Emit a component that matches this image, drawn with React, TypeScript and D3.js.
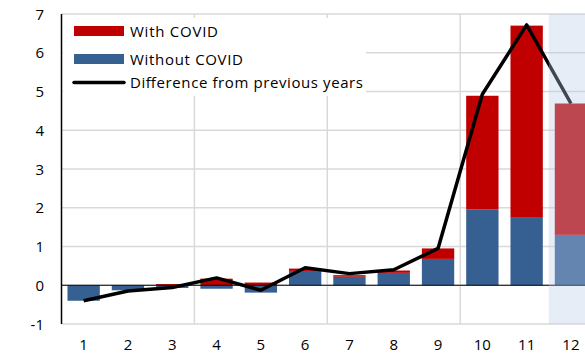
import React from "react";
import * as d3 from "d3";

const categories = ["1", "2", "3", "4", "5", "6", "7", "8", "9", "10", "11", "12"];
const withoutCovid = [-0.40, -0.13, -0.07, -0.09, -0.19, 0.37, 0.22, 0.32, 0.68, 1.96, 1.76, 1.30];
const withCovid = [0, 0, 0.03, 0.17, 0.07, 0.06, 0.04, 0.06, 0.27, 2.93, 4.94, 3.39];
const difference = [-0.40, -0.15, -0.06, 0.19, -0.13, 0.45, 0.30, 0.40, 0.95, 4.93, 6.72, 4.69];
const yTicks = [-1, 0, 1, 2, 3, 4, 5, 6, 7];
const shadedCategories = ["12"];

const W = 585;
const H = 354;
const FONT = "'Open Sans', 'Liberation Sans', sans-serif";
const RED = "#C00000";
const BLUE = "#376092";

export default function App() {
  const x0 = 61.5;
  const x1 = x0 + 12 * 44.3;
  const x = d3.scaleBand<string>().domain(categories).range([x0, x1]).paddingInner(0.27).paddingOuter(0.135);
  const xb = d3.scaleBand<string>().domain(categories).range([x0, x1]);
  const y = d3.scaleLinear().domain([-1, 7]).range([324, 14]);

  const segs: { c: string; y0: number; y1: number; color: string }[] = [];
  categories.forEach((c, i) => {
    let pos = 0;
    let neg = 0;
    [[withoutCovid[i], BLUE], [withCovid[i], RED]].forEach(([v, col]) => {
      const val = v as number;
      if (val >= 0) {
        segs.push({ c, y0: pos, y1: pos + val, color: col as string });
        pos += val;
      } else {
        segs.push({ c, y0: neg + val, y1: neg, color: col as string });
        neg += val;
      }
    });
  });

  const line = d3
    .line<number>()
    .x((_, i) => (xb(categories[i]) as number) + xb.bandwidth() / 2)
    .y((d) => y(d));

  const vGrid = [3, 6, 9, 12].map((k) => x0 + k * xb.step());

  return (
    <svg width={W} height={H} style={{ position: "absolute", left: 0, top: 0, background: "#fff" }} fontFamily={FONT}>
      {yTicks.map((t) => (
        <line key={"h" + t} x1={x0} x2={W} y1={y(t)} y2={y(t)} stroke="#D9D9D9" strokeWidth={1.5} />
      ))}
      {vGrid.map((gx, i) => (
        <line key={"v" + i} x1={gx} x2={gx} y1={y(7)} y2={y(-1)} stroke="#D9D9D9" strokeWidth={1.5} />
      ))}
      {segs.map((s, i) => (
        <rect
          key={"b" + i}
          x={x(s.c)}
          width={x.bandwidth()}
          y={y(s.y1)}
          height={Math.max(0, y(s.y0) - y(s.y1))}
          fill={s.color}
        />
      ))}
      <line x1={x0} x2={W} y1={y(0)} y2={y(0)} stroke="#000" strokeWidth={1} />
      <path d={line(difference) || ""} fill="none" stroke="#000" strokeWidth={3.5} strokeLinejoin="round" />
      {shadedCategories.map((c) => (
        <rect
          key={"s" + c}
          x={xb(c)}
          width={xb.bandwidth()}
          y={y(7)}
          height={y(-1) - y(7)}
          fill="#B8CCE4"
          fillOpacity={0.35}
        />
      ))}
      <line x1={x0} x2={x0} y1={y(7)} y2={y(-1)} stroke="#000" strokeWidth={1.5} />
      {yTicks.map((t) => (
        <text key={"yl" + t} x={44} y={y(t) + 5.5} textAnchor="end" fontSize={15} fill="#000">
          {t}
        </text>
      ))}
      {categories.map((c) => (
        <text key={"xl" + c} x={(xb(c) as number) + xb.bandwidth() / 2} y={350} textAnchor="middle" fontSize={15} fill="#000">
          {c}
        </text>
      ))}
      <rect x={63} y={18} width={303} height={78} fill="#fff" />
      <rect x={74} y={26} width={50} height={10} fill={RED} />
      <text x={130} y={37} fontSize={15} fill="#000" textLength={88} lengthAdjust="spacing">With COVID</text>
      <rect x={74} y={54} width={50} height={10} fill={BLUE} />
      <text x={130} y={65} fontSize={15} fill="#000" textLength={113} lengthAdjust="spacing">Without COVID</text>
      <line x1={74} x2={124} y1={82.5} y2={82.5} stroke="#000" strokeWidth={3.5} strokeLinecap="round" />
      <text x={130} y={88} fontSize={15} fill="#000" textLength={233} lengthAdjust="spacing">Difference from previous years</text>
    </svg>
  );
}
